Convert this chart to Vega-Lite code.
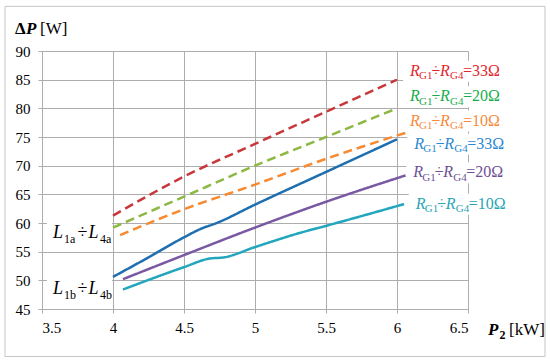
{
  "$schema": "https://vega.github.io/schema/vega-lite/v6.json",
  "width": 426,
  "height": 258,
  "autosize": {"type": "none"},
  "padding": {"left": 42, "top": 51, "right": 82, "bottom": 54},
  "background": "white",
  "config": {
    "view": {"stroke": null},
    "font": "'Liberation Serif', 'Times New Roman', serif",
    "text": {"font": "'Liberation Serif', 'Times New Roman', serif"},
    "axis": {
      "title": null, "format": "~g",
      "grid": true, "gridColor": "#ADADAD", "gridWidth": 1,
      "domainColor": "#ADADAD", "domainWidth": 1, "tickColor": "#ADADAD", "tickSize": 4,
      "labelFont": "'Liberation Serif', 'Times New Roman', serif", "labelFontSize": 15, "labelColor": "#000000"
    },
    "axisX": {"labelPadding": 7},
    "axisY": {"labelPadding": 8}
  },
  "datasets": {
    "lines": [
      {"s": "a33", "w": "a", "x": 4.0, "y": 61.3},
      {"s": "a33", "w": "a", "x": 4.5, "y": 68.1},
      {"s": "a33", "w": "a", "x": 5.0, "y": 73.8},
      {"s": "a33", "w": "a", "x": 5.5, "y": 79.4},
      {"s": "a33", "w": "a", "x": 6.0, "y": 85.0},
      {"s": "a20", "w": "a", "x": 4.0, "y": 59.2},
      {"s": "a20", "w": "a", "x": 4.5, "y": 64.6},
      {"s": "a20", "w": "a", "x": 5.0, "y": 70.0},
      {"s": "a20", "w": "a", "x": 5.5, "y": 75.0},
      {"s": "a20", "w": "a", "x": 6.0, "y": 80.0},
      {"s": "a10", "w": "a", "x": 4.05, "y": 57.9},
      {"s": "a10", "w": "a", "x": 4.5, "y": 62.4},
      {"s": "a10", "w": "a", "x": 5.0, "y": 66.7},
      {"s": "a10", "w": "a", "x": 5.5, "y": 71.2},
      {"s": "a10", "w": "a", "x": 6.07, "y": 75.8},
      {"s": "b33", "w": "b", "x": 4.0, "y": 50.6},
      {"s": "b33", "w": "b", "x": 4.25, "y": 54.0},
      {"s": "b33", "w": "b", "x": 4.5, "y": 57.5},
      {"s": "b33", "w": "b", "x": 4.62, "y": 59.0},
      {"s": "b33", "w": "b", "x": 4.72, "y": 59.9},
      {"s": "b33", "w": "b", "x": 5.0, "y": 63.2},
      {"s": "b33", "w": "b", "x": 5.5, "y": 68.9},
      {"s": "b33", "w": "b", "x": 6.0, "y": 74.6},
      {"s": "b20", "w": "b", "x": 4.07, "y": 50.2},
      {"s": "b20", "w": "b", "x": 4.5, "y": 54.4},
      {"s": "b20", "w": "b", "x": 5.0, "y": 59.2},
      {"s": "b20", "w": "b", "x": 5.5, "y": 63.7},
      {"s": "b20", "w": "b", "x": 6.06, "y": 68.3},
      {"s": "b10", "w": "b", "x": 4.07, "y": 48.4},
      {"s": "b10", "w": "b", "x": 4.5, "y": 52.3},
      {"s": "b10", "w": "b", "x": 4.68, "y": 53.8},
      {"s": "b10", "w": "b", "x": 4.78, "y": 54.0},
      {"s": "b10", "w": "b", "x": 5.0, "y": 55.8},
      {"s": "b10", "w": "b", "x": 5.32, "y": 58.3},
      {"s": "b10", "w": "b", "x": 5.5, "y": 59.5},
      {"s": "b10", "w": "b", "x": 6.05, "y": 63.3}
    ],
    "rlabels": [
      {"s": "a33", "x": 6.092, "y": 85.7, "val": "=33Ω"},
      {"s": "a20", "x": 6.092, "y": 81.25, "val": "=20Ω"},
      {"s": "a10", "x": 6.092, "y": 77.0, "val": "=10Ω"},
      {"s": "b33", "x": 6.122, "y": 72.95, "val": "=33Ω"},
      {"s": "b20", "x": 6.115, "y": 68.0, "val": "=20Ω"},
      {"s": "b10", "x": 6.132, "y": 62.5, "val": "=10Ω"}
    ],
    "llabels": [
      {"sub1": "1a", "sub2": "4a", "x": 3.577, "y": 57.3},
      {"sub1": "1b", "sub2": "4b", "x": 3.577, "y": 47.7}
    ]
  },
  "layer": [
    {
      "data": {"name": "rlabels"},
      "mark": {"type": "point", "shape": "M-0.7,-1.5H9.6V0.6H-0.7Z", "size": 400, "filled": true, "color": "white", "opacity": 1, "strokeWidth": 0},
      "encoding": {
        "x": {"field": "x", "type": "quantitative", "scale": {"domain": [3.5, 6.5], "nice": false, "zero": false}, "axis": {"values": [3.5, 4, 4.5, 5, 5.5, 6, 6.5]}},
        "y": {"field": "y", "type": "quantitative", "scale": {"domain": [45, 90], "nice": false, "zero": false}, "axis": {"values": [45, 50, 55, 60, 65, 70, 75, 80, 85, 90]}}
      }
    },
    {
      "data": {"name": "llabels"},
      "mark": {"type": "point", "shape": "M-0.6,-1.7H5.9V0.7H-0.6Z", "size": 400, "filled": true, "color": "white", "opacity": 1, "strokeWidth": 0},
      "encoding": {
        "x": {"field": "x", "type": "quantitative", "scale": {"domain": [3.5, 6.5], "nice": false, "zero": false}, "axis": {"values": [3.5, 4, 4.5, 5, 5.5, 6, 6.5]}},
        "y": {"field": "y", "type": "quantitative", "scale": {"domain": [45, 90], "nice": false, "zero": false}, "axis": {"values": [45, 50, 55, 60, 65, 70, 75, 80, 85, 90]}}
      }
    },
    {
      "data": {"name": "lines"},
      "mark": {"type": "line", "strokeWidth": 2.5, "interpolate": "monotone"},
      "encoding": {
        "x": {"field": "x", "type": "quantitative", "scale": {"domain": [3.5, 6.5], "nice": false, "zero": false}, "axis": {"values": [3.5, 4, 4.5, 5, 5.5, 6, 6.5]}},
        "y": {"field": "y", "type": "quantitative", "scale": {"domain": [45, 90], "nice": false, "zero": false}, "axis": {"values": [45, 50, 55, 60, 65, 70, 75, 80, 85, 90]}},
        "stroke": {
          "field": "s", "type": "nominal", "legend": null,
          "scale": {"domain": ["a33", "a20", "a10", "b33", "b20", "b10"], "range": ["#C8383A", "#8DB843", "#F7892F", "#1F6FB0", "#7A59A3", "#22A6BD"]}
        },
        "strokeDash": {
          "field": "w", "type": "nominal", "legend": null,
          "scale": {"domain": ["a", "b"], "range": [[9, 5], [1, 0]]}
        }
      }
    },
    {
      "data": {"name": "rlabels"},
      "encoding": {
        "x": {"field": "x", "type": "quantitative", "scale": {"domain": [3.5, 6.5], "nice": false, "zero": false}, "axis": {"values": [3.5, 4, 4.5, 5, 5.5, 6, 6.5]}},
        "y": {"field": "y", "type": "quantitative", "scale": {"domain": [45, 90], "nice": false, "zero": false}, "axis": {"values": [45, 50, 55, 60, 65, 70, 75, 80, 85, 90]}},
        "fill": {
          "field": "s", "type": "nominal", "legend": null,
          "scale": {"domain": ["a33", "a20", "a10", "b33", "b20", "b10"], "range": ["#E5262E", "#17AD4D", "#F78A3C", "#2B88D3", "#6E4F95", "#29A5B5"]}
        }
      },
      "layer": [
        {"mark": {"type": "text", "text": "R", "fontSize": 16, "fontStyle": "italic", "align": "left", "baseline": "alphabetic", "dx": 0}},
        {"mark": {"type": "text", "text": "G1", "fontSize": 11, "align": "left", "baseline": "alphabetic", "dx": 9, "dy": 3.5}},
        {"mark": {"type": "text", "text": "÷", "fontSize": 16, "align": "left", "baseline": "alphabetic", "dx": 21.5}},
        {"mark": {"type": "text", "text": "R", "fontSize": 16, "fontStyle": "italic", "align": "left", "baseline": "alphabetic", "dx": 30}},
        {"mark": {"type": "text", "text": "G4", "fontSize": 11, "align": "left", "baseline": "alphabetic", "dx": 40, "dy": 3.5}},
        {"mark": {"type": "text", "fontSize": 16, "align": "left", "baseline": "alphabetic", "dx": 53}, "encoding": {"text": {"field": "val"}}}
      ]
    },
    {
      "data": {"name": "llabels"},
      "encoding": {
        "x": {"field": "x", "type": "quantitative", "scale": {"domain": [3.5, 6.5], "nice": false, "zero": false}, "axis": {"values": [3.5, 4, 4.5, 5, 5.5, 6, 6.5]}},
        "y": {"field": "y", "type": "quantitative", "scale": {"domain": [45, 90], "nice": false, "zero": false}, "axis": {"values": [45, 50, 55, 60, 65, 70, 75, 80, 85, 90]}}
      },
      "layer": [
        {"mark": {"type": "text", "text": "L", "fontSize": 18, "fontStyle": "italic", "align": "left", "baseline": "alphabetic", "dx": 0, "color": "#000000"}},
        {"mark": {"type": "text", "fontSize": 12, "align": "left", "baseline": "alphabetic", "dx": 11, "dy": 5, "color": "#000000"}, "encoding": {"text": {"field": "sub1"}}},
        {"mark": {"type": "text", "text": "÷", "fontSize": 18, "align": "left", "baseline": "alphabetic", "dx": 24.5, "color": "#000000"}},
        {"mark": {"type": "text", "text": "L", "fontSize": 18, "fontStyle": "italic", "align": "left", "baseline": "alphabetic", "dx": 35.5, "color": "#000000"}},
        {"mark": {"type": "text", "fontSize": 12, "align": "left", "baseline": "alphabetic", "dx": 47, "dy": 5, "color": "#000000"}, "encoding": {"text": {"field": "sub2"}}}
      ]
    },
    {
      "data": {"values": [{}]},
      "mark": {"type": "rect", "fill": "transparent", "stroke": "#C4C4C4", "strokeWidth": 1},
      "encoding": {
        "x": {"datum": 3.2394, "type": "quantitative", "scale": {"domain": [3.5, 6.5], "nice": false, "zero": false}, "axis": {"values": [3.5, 4, 4.5, 5, 5.5, 6, 6.5]}},
        "x2": {"datum": 7.0423},
        "y": {"datum": 97.79, "type": "quantitative", "scale": {"domain": [45, 90], "nice": false, "zero": false}, "axis": {"values": [45, 50, 55, 60, 65, 70, 75, 80, 85, 90]}},
        "y2": {"datum": 36.72}
      }
    },
    {
      "data": {"values": [{}]},
      "encoding": {
        "x": {"datum": 3.3099, "type": "quantitative", "scale": {"domain": [3.5, 6.5], "nice": false, "zero": false}, "axis": {"values": [3.5, 4, 4.5, 5, 5.5, 6, 6.5]}},
        "y": {"datum": 92.91, "type": "quantitative", "scale": {"domain": [45, 90], "nice": false, "zero": false}, "axis": {"values": [45, 50, 55, 60, 65, 70, 75, 80, 85, 90]}}
      },
      "layer": [
        {"mark": {"type": "text", "text": "Δ", "fontSize": 17, "fontWeight": "bold", "align": "left", "baseline": "alphabetic", "dx": 0, "color": "#000000"}},
        {"mark": {"type": "text", "text": "P", "fontSize": 17, "fontWeight": "bold", "fontStyle": "italic", "align": "left", "baseline": "alphabetic", "dx": 11, "color": "#000000"}},
        {"mark": {"type": "text", "text": "[W]", "fontSize": 17, "align": "left", "baseline": "alphabetic", "dx": 25, "color": "#000000"}}
      ]
    },
    {
      "data": {"values": [{}]},
      "encoding": {
        "x": {"datum": 6.641, "type": "quantitative", "scale": {"domain": [3.5, 6.5], "nice": false, "zero": false}, "axis": {"values": [3.5, 4, 4.5, 5, 5.5, 6, 6.5]}},
        "y": {"datum": 40.5, "type": "quantitative", "scale": {"domain": [45, 90], "nice": false, "zero": false}, "axis": {"values": [45, 50, 55, 60, 65, 70, 75, 80, 85, 90]}}
      },
      "layer": [
        {"mark": {"type": "text", "text": "P", "fontSize": 17, "fontWeight": "bold", "fontStyle": "italic", "align": "left", "baseline": "alphabetic", "dx": 0, "color": "#000000"}},
        {"mark": {"type": "text", "text": "2", "fontSize": 12, "fontWeight": "bold", "align": "left", "baseline": "alphabetic", "dx": 11.5, "dy": 4, "color": "#000000"}},
        {"mark": {"type": "text", "text": "[kW]", "fontSize": 17, "align": "left", "baseline": "alphabetic", "dx": 21, "color": "#000000"}}
      ]
    }
  ]
}
